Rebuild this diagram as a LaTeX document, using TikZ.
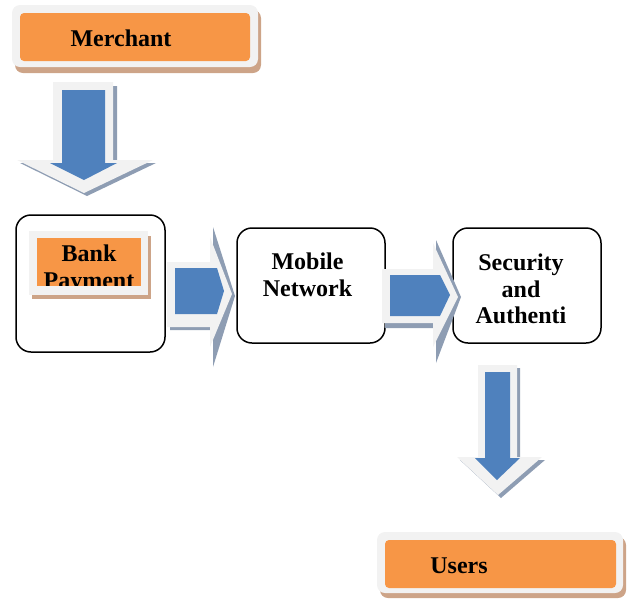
\documentclass[tikz,border=0pt]{standalone}
\usepackage{fontspec}
\setmainfont{Liberation Serif}
\definecolor{orng}{HTML}{F79646}
\definecolor{blu}{HTML}{4F81BD}
\definecolor{frm}{HTML}{F2F2F2}
\definecolor{tanshd}{HTML}{CDA488}
\definecolor{ashd}{HTML}{8E9DB3}
\begin{document}
\begin{tikzpicture}[x=1pt,y=-1pt,
  lbl/.style={font=\fontsize{24}{27}\selectfont\bfseries, inner sep=0pt, anchor=base},
  procbox/.style={draw=black, line width=1.5pt, rounded corners=15pt, fill=white, inner sep=0pt},
  arrshadow/.style={fill=ashd},
  arrframe/.style={fill=frm},
  arrbody/.style={fill=blu}
]
\useasboundingbox (0,0) rectangle (630,600);

% Merchant
\fill[tanshd, rounded corners=8pt] (15,10) rectangle (261,73);
\fill[frm, rounded corners=8pt] (12,5) rectangle (258,67);
\fill[orng, rounded corners=4pt] (20,13) rectangle (250,61);
\node[lbl] (merchant) at (121,46) {Merchant};

% Down arrow 1
\fill[arrshadow] (57,86) -- (117,86) -- (117,164) -- (156,163) -- (87,196) -- (20,163) -- (57,164) -- cycle;
\fill[arrframe] (53,82) -- (113,82) -- (113,160) -- (153,160) -- (84,193) -- (17,160) -- (53,160) -- cycle;
\fill[arrbody] (62,90) -- (105,90) -- (105,163) -- (117,163) -- (84,180) -- (50,163) -- (62,163) -- cycle;

% Process boxes
\node[procbox, minimum width=149pt, minimum height=137pt] (bank) at (90.5,283.5) {};
\node[procbox, minimum width=148pt, minimum height=115pt] (mobile) at (311,285.5) {};
\node[procbox, minimum width=148pt, minimum height=115pt] (security) at (527,285.5) {};

% Bank Payment label
\fill[tanshd] (32,236) rectangle (151,299);
\fill[frm] (29,231) rectangle (148,295);
\fill[orng] (37,238) rectangle (141,286);
\node[lbl] (bankt) at (89,261) {Bank};
\begin{scope}
  \clip (37,238) rectangle (141,285);
  \node[lbl] (payt) at (89,288.5) {Payment};
\end{scope}

% Right arrow 1
\fill[arrshadow] (170,268) -- (213,268) -- (213,227) -- (235,296) -- (213,367) -- (213,330) -- (170,330) -- cycle;
\fill[arrframe] (167,262) -- (210,262) -- (210,237) -- (232,294) -- (210,347) -- (210,327) -- (167,327) -- cycle;
\fill[arrbody] (175,268) -- (217,268) -- (224,291) -- (217,314) -- (175,314) -- cycle;

% Right arrow 2
\fill[arrshadow] (385,275) -- (436,275) -- (436,240) -- (461,297) -- (436,363) -- (436,328) -- (385,328) -- cycle;
\fill[arrframe] (382,269) -- (433,269) -- (433,243) -- (458,297) -- (433,347) -- (433,323) -- (382,323) -- cycle;
\fill[arrbody] (390,275) -- (440,275) -- (450,295) -- (440,316) -- (390,316) -- cycle;

% Down arrow 2
\fill[arrshadow] (481,368) -- (520,368) -- (520,460) -- (545,460) -- (501,498) -- (460,460) -- (481,460) -- cycle;
\fill[arrframe] (478,365) -- (517,365) -- (517,457) -- (542,457) -- (498,495) -- (457,457) -- (478,457) -- cycle;
\fill[arrbody] (485,372) -- (510,372) -- (510,458) -- (520,458) -- (497,480) -- (475,458) -- (485,458) -- cycle;

% Texts in boxes
\node[lbl] (mob1) at (307.5,269) {Mobile};
\node[lbl] (mob2) at (307.5,296) {Network};
\node[lbl] (sec1) at (521,270) {Security};
\node[lbl] (sec2) at (521,297) {and};
\node[lbl] (sec3) at (521,323) {Authenti};

% Users
\fill[tanshd, rounded corners=8pt] (380,537) rectangle (626,598);
\fill[frm, rounded corners=8pt] (377,532) rectangle (623,593);
\fill[orng, rounded corners=4pt] (385,540) rectangle (616,588);
\node[lbl] (users) at (459,573) {Users};
\end{tikzpicture}
\end{document}
